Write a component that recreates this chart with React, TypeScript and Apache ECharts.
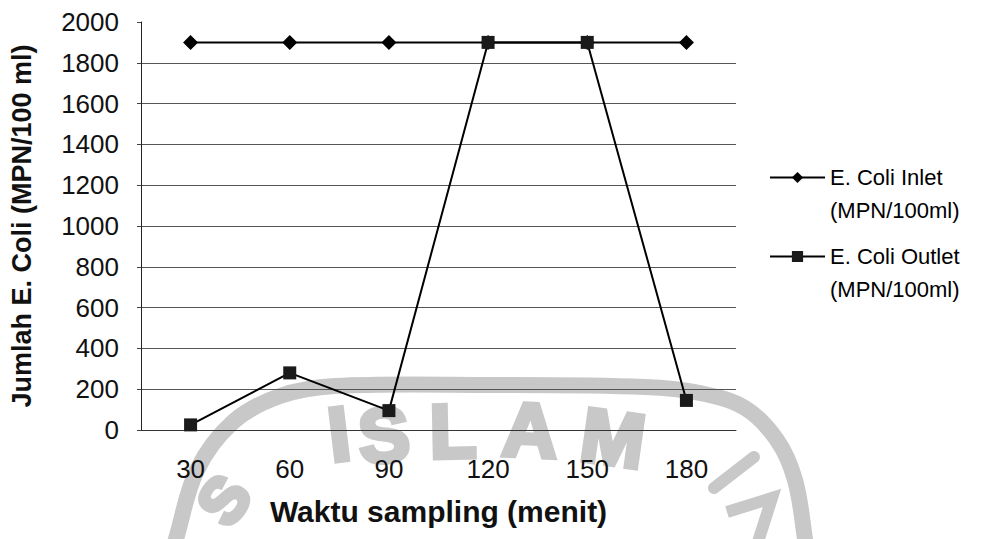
import React, { useEffect, useRef } from "react";
import * as echarts from "echarts";

// Sampling times (minutes) on the category axis
const categories = ["30", "60", "90", "120", "150", "180"];
// E. coli counts (MPN/100 ml)
const inletValues = [1900, 1900, 1900, 1900, 1900, 1900];
const outletValues = [25, 280, 95, 1900, 1900, 145];
const seriesNames = ["E. Coli Inlet\n(MPN/100ml)", "E. Coli Outlet\n(MPN/100ml)"];
// Value axis range
const yMin = 0;
const yMax = 2000;
const yStep = 200;

const FONT = '"Liberation Sans", Arial, Helvetica, sans-serif';
const MARK = "#c8c8c8";

// Faint institutional seal stamped behind the plot
const sealRing: number[][] = [
  [170, 560], [176, 539], [197, 470], [233, 422], [280, 396], [335, 386],
  [490, 385], [645, 387], [700, 393], [745, 408], [777, 440], [795, 480],
  [805, 539], [807, 560],
];
const sealLetters = [
  { ch: "I", x: 339, y: 434, r: 0.12, s: 76 },
  { ch: "S", x: 384, y: 435, r: 0.08, s: 76 },
  { ch: "L", x: 453, y: 431, r: 0.02, s: 76 },
  { ch: "A", x: 530, y: 430, r: -0.05, s: 76 },
  { ch: "M", x: 613, y: 438, r: -0.14, s: 76 },
  { ch: "S", x: 224, y: 500, r: 0.95, s: 64 },
];

export default function App() {
  const ref = useRef<HTMLDivElement>(null);

  useEffect(() => {
    if (!ref.current) return;
    const chart = echarts.init(ref.current, null, { renderer: "svg" });

    const seal: any[] = [
      {
        type: "polyline",
        z: -10,
        silent: true,
        shape: { points: sealRing, smooth: 0.35 },
        style: { stroke: MARK, lineWidth: 16, fill: "none" },
      },
      ...sealLetters.map((l) => ({
        type: "text",
        z: -10,
        silent: true,
        x: l.x,
        y: l.y,
        rotation: l.r,
        style: {
          text: l.ch,
          fontFamily: FONT,
          fontSize: l.s,
          fontWeight: "bold",
          fill: MARK,
          stroke: MARK,
          lineWidth: 5,
          align: "center",
          verticalAlign: "middle",
        },
      })),
      {
        type: "line",
        z: -10,
        silent: true,
        shape: { x1: 714, y1: 488, x2: 754, y2: 457 },
        style: { stroke: MARK, lineWidth: 12, lineCap: "round" },
      },
      {
        type: "polyline",
        z: -10,
        silent: true,
        shape: { points: [[727, 512], [772, 498], [757, 545]] },
        style: { stroke: MARK, lineWidth: 12, fill: "none" },
      },
    ];

    const legendBase = {
      left: 769,
      orient: "vertical",
      itemWidth: 55,
      itemHeight: 14,
      padding: 0,
      // a leading blank line puts the marker level with the first text line
      formatter: (name: string) => "\n" + name,
      textStyle: {
        fontFamily: FONT,
        fontSize: 22,
        lineHeight: 33,
        color: "#000",
      },
    };

    chart.setOption({
      animation: false,
      backgroundColor: "#fff",
      graphic: seal,
      grid: { left: 141, right: 267, top: 22, bottom: 109, containLabel: false },
      legend: [
        { ...legendBase, top: 128, data: [seriesNames[0]] },
        { ...legendBase, top: 207, data: [seriesNames[1]] },
      ],
      xAxis: {
        type: "category",
        data: categories,
        boundaryGap: true,
        name: "Waktu sampling (menit)",
        nameLocation: "middle",
        nameGap: 66,
        nameTextStyle: { fontFamily: FONT, fontSize: 30, fontWeight: "bold", color: "#111" },
        axisLine: { lineStyle: { color: "#333", width: 1 } },
        axisTick: { show: false },
        axisLabel: { fontFamily: FONT, fontSize: 26, color: "#111", margin: 26 },
      },
      yAxis: {
        type: "value",
        min: yMin,
        max: yMax,
        interval: yStep,
        name: "Jumlah E. Coli (MPN/100 ml)",
        nameLocation: "middle",
        nameRotate: 90,
        nameGap: 106,
        nameTextStyle: { fontFamily: FONT, fontSize: 27, fontWeight: "bold", color: "#111" },
        axisLine: { show: true, lineStyle: { color: "#222", width: 1 } },
        axisTick: { show: true, length: 4, lineStyle: { color: "#444" } },
        axisLabel: {
          fontFamily: FONT,
          fontSize: 26,
          color: "#111",
          margin: 22,
          formatter: (v: number) => String(v),
        },
        splitLine: { show: true, showMaxLine: false, lineStyle: { color: "#555", width: 1 } },
      },
      series: [
        {
          name: seriesNames[0],
          type: "line",
          data: inletValues,
          symbol: "diamond",
          symbolSize: 15,
          color: "#000",
          lineStyle: { color: "#000", width: 2 },
          itemStyle: { color: "#000" },
        },
        {
          name: seriesNames[1],
          type: "line",
          data: outletValues,
          symbol: "rect",
          symbolSize: 13,
          color: "#1a1a1a",
          lineStyle: { color: "#000", width: 2 },
          itemStyle: { color: "#1a1a1a" },
        },
      ],
    });

    return () => chart.dispose();
  }, []);

  return (
    <div
      ref={ref}
      style={{ position: "fixed", left: 0, top: 0, width: 1003, height: 539 }}
    />
  );
}
